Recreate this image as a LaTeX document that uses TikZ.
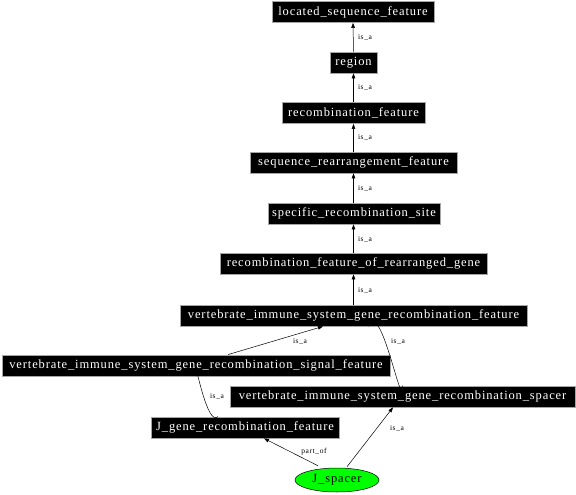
\documentclass[tikz,border=0pt]{standalone}
\usepackage{fontspec}
\setmainfont{Liberation Serif}
\usetikzlibrary{arrows.meta,shapes.geometric}
\begin{document}
\begin{tikzpicture}[x=1pt,y=-1pt,
  term/.style={fill=black, draw=gray!70, line width=0.8pt, text=white, inner sep=0pt,
    minimum height=21pt, font=\fontsize{12.5}{13}\selectfont\addfontfeature{LetterSpace=7}},
  edge/.style={draw=black, line width=0.5pt, -{Triangle[length=5pt,width=3.6pt]}},
  lbl/.style={font=\fontsize{7.5}{8}\selectfont\addfontfeature{LetterSpace=8}, inner sep=0pt}]
\useasboundingbox (0,0) rectangle (576,495);
\node[term, minimum width=162pt] (lsf) at (353,12) {located\_sequence\_feature};
\node[term, minimum width=47pt] (reg) at (353.5,62.5) {region};
\node[term, minimum width=143pt] (rf) at (353.5,113) {recombination\_feature};
\node[term, minimum width=207pt] (srf) at (353.5,162.5) {sequence\_rearrangement\_feature};
\node[term, minimum width=172pt] (srs) at (354,213.5) {specific\_recombination\_site};
\node[term, minimum width=267pt] (rfrg) at (353.5,263.5) {recombination\_feature\_of\_rearranged\_gene};
\node[term, minimum width=347pt] (vis) at (353.5,315.5) {vertebrate\_immune\_system\_gene\_recombination\_feature};
\node[term, minimum width=388pt] (sig) at (196,365.5) {vertebrate\_immune\_system\_gene\_recombination\_signal\_feature};
\node[term, minimum width=345pt] (spc) at (402.5,396.5) {vertebrate\_immune\_system\_gene\_recombination\_spacer};
\node[term, minimum width=188pt] (jg) at (245,427.5) {J\_gene\_recombination\_feature};
\node[ellipse, draw=black, line width=0.5pt, fill=green, minimum width=84pt, minimum height=24pt, inner sep=0pt,
  font=\fontsize{12.5}{13}\selectfont\addfontfeature{LetterSpace=7}] (js) at (337,480) {J\_spacer};

\draw[edge] (reg.north) -- (lsf.south);
\draw[edge] (rf.north) -- (reg.south);
\draw[edge] (srf.north) -- (rf.south);
\draw[edge] (srs.north -| srf.south) -- (srf.south);
\draw[edge] (rfrg.north) -- (srs.south -| rfrg.north);
\draw[edge] (vis.north) -- (rfrg.south);
\draw[edge] ([xshift=32pt]sig.north) -- ([xshift=-30.5pt]vis.south);
\draw[edge] (spc.north) .. controls ([yshift=-28pt]spc.north) and ([xshift=30pt,yshift=14pt]vis.south) .. ([xshift=14.5pt]vis.south);
\draw[edge] ([xshift=-27pt]jg.north) .. controls ([xshift=-38pt,yshift=-10pt]jg.north) and ([yshift=14pt]sig.south) .. (sig.south);
\draw[edge] ([xshift=-19pt,yshift=2pt]js.north) -- ([xshift=19pt]jg.south);
\draw[edge] ([xshift=10pt,yshift=1pt]js.north) -- ([xshift=-9.5pt]spc.south);

\node[lbl] (l1) at (365,37.5) {is\_a};
\node[lbl] (l2) at (365,88) {is\_a};
\node[lbl] (l3) at (365,138) {is\_a};
\node[lbl] (l4) at (365,188.5) {is\_a};
\node[lbl] (l5) at (365,239) {is\_a};
\node[lbl] (l6) at (365,290) {is\_a};
\node[lbl] (l7) at (300,341) {is\_a};
\node[lbl] (l8) at (398,341) {is\_a};
\node[lbl] (l9) at (217,396) {is\_a};
\node[lbl] (l10) at (397,428) {is\_a};
\node[lbl] (l11) at (314,452) {part\_of};
\end{tikzpicture}
\end{document}
